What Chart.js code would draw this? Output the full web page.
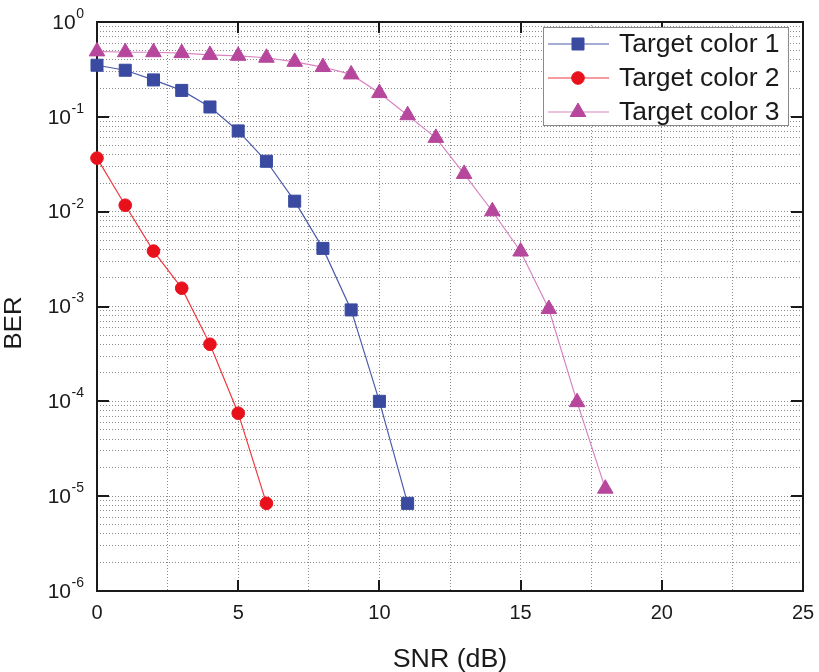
<!DOCTYPE html>
<html>
<head>
<meta charset="utf-8">
<title>BER vs SNR</title>
<script src="https://cdn.jsdelivr.net/npm/chart.js@4.4.1/dist/chart.umd.min.js"></script>
<style>
  html, body { margin: 0; padding: 0; background: #fff; }
  #wrap { width: 819px; height: 672px; }
</style>
</head>
<body>
<div id="wrap"><canvas id="berChart" width="819" height="672"></canvas></div>
<script>
// SNR (dB) and measured BER per target colour
const snr1 = [0, 1, 2, 3, 4, 5, 6, 7, 8, 9, 10, 11];
const ber1 = [0.35, 0.31, 0.245, 0.19, 0.127, 0.071, 0.034, 0.0129, 0.0041, 9.2e-4, 1.0e-4, 8.4e-6];

const snr2 = [0, 1, 2, 3, 4, 5, 6];
const ber2 = [0.0367, 0.0117, 0.00384, 0.00156, 4.0e-4, 7.5e-5, 8.4e-6];

const snr3 = [0, 1, 2, 3, 4, 5, 6, 7, 8, 9, 10, 11, 12, 13, 14, 15, 16, 17, 18];
const ber3 = [0.49, 0.48, 0.48, 0.47, 0.45, 0.44, 0.42, 0.38, 0.335, 0.28, 0.178, 0.104,
              0.06, 0.025, 0.0101, 0.0038, 9.4e-4, 9.8e-5, 1.2e-5];

const seriesNames = ["Target color 1", "Target color 2", "Target color 3"];

const xTickLabels = [0, 5, 10, 15, 20, 25];
const xGridStep = 2.5;
const yDecades = [-6, -5, -4, -3, -2, -1, 0];

const FONT = '"Liberation Sans", Arial, sans-serif';

function toPoints(xs, ys) {
  return xs.map((x, i) => ({ x: x, y: ys[i] }));
}

// text drawn slightly wider than the font's natural width
function wideText(ctx, text, x, y, stretch) {
  ctx.save();
  ctx.translate(x, y);
  ctx.scale(stretch, 1);
  ctx.fillText(text, 0, 0);
  ctx.restore();
}

const datasets = [
  {
    label: seriesNames[0],
    data: toPoints(snr1, ber1),
    borderColor: "#4c5bab",
    backgroundColor: "#3a4aa0",
    pointBackgroundColor: "#3a4aa0",
    pointBorderColor: "#3a4aa0",
    pointStyle: "rect",
    pointRadius: 8.5
  },
  {
    label: seriesNames[1],
    data: toPoints(snr2, ber2),
    borderColor: "#ee3a40",
    backgroundColor: "#e8101a",
    pointBackgroundColor: "#e8101a",
    pointBorderColor: "#e8101a",
    pointStyle: "circle",
    pointRadius: 6.3
  },
  {
    label: seriesNames[2],
    data: toPoints(snr3, ber3),
    borderColor: "#d884c2",
    backgroundColor: "#b6479c",
    pointBackgroundColor: "#b6479c",
    pointBorderColor: "#b6479c",
    pointStyle: "triangle",
    pointRadius: 9
  }
].map(d => Object.assign(d, {
  borderWidth: 1.2,
  pointBorderWidth: 1,
  tension: 0,
  fill: false,
  clip: false
}));

// frame, inward ticks, tick labels, axis titles and the legend box
const decorations = {
  id: "decorations",
  beforeDatasetsDraw(chart) {
    const ctx = chart.ctx;
    const a = chart.chartArea;
    const xs = chart.scales.x;
    const ys = chart.scales.y;
    ctx.save();
    ctx.strokeStyle = "#1a1a1a";
    ctx.lineWidth = 2;
    ctx.strokeRect(a.left, a.top, a.right - a.left, a.bottom - a.top);

    ctx.beginPath();
    xTickLabels.forEach(v => {
      const px = Math.round(xs.getPixelForValue(v));
      ctx.moveTo(px, a.bottom); ctx.lineTo(px, a.bottom - 11);
      ctx.moveTo(px, a.top); ctx.lineTo(px, a.top + 11);
    });
    yDecades.forEach(e => {
      const py = Math.round(ys.getPixelForValue(Math.pow(10, e)));
      ctx.moveTo(a.left, py); ctx.lineTo(a.left + 12, py);
      ctx.moveTo(a.right, py); ctx.lineTo(a.right - 12, py);
    });
    ctx.stroke();

    ctx.fillStyle = "#1a1a1a";
    ctx.font = "20px " + FONT;
    ctx.textAlign = "center";
    ctx.textBaseline = "middle";
    xTickLabels.forEach(v => {
      ctx.fillText(String(v), xs.getPixelForValue(v), 613);
    });

    const right = 84;
    yDecades.forEach(e => {
      const py = ys.getPixelForValue(Math.pow(10, e));
      const sup = String(e);
      ctx.font = "14px " + FONT;
      const sw = ctx.measureText(sup).width;
      ctx.textAlign = "left";
      ctx.fillText(sup, right - sw, py - 8);
      ctx.font = "21px " + FONT;
      const bw = ctx.measureText("10").width;
      ctx.fillText("10", right - sw - bw - 0.5, py + 1);
    });

    ctx.font = "25px " + FONT;
    ctx.textAlign = "center";
    wideText(ctx, "SNR (dB)", (a.left + a.right) / 2, 660, 1.07);
    ctx.translate(15, 323);
    ctx.rotate(-Math.PI / 2);
    ctx.font = "23px " + FONT;
    wideText(ctx, "BER", 0, 0, 1.12);
    ctx.restore();
  },
  afterDatasetsDraw(chart) {
    const ctx = chart.ctx;
    const box = { left: 543, top: 27, right: 789, bottom: 126 };
    ctx.save();
    ctx.fillStyle = "#fff";
    ctx.fillRect(box.left, box.top, box.right - box.left, box.bottom - box.top);
    ctx.strokeStyle = "#8a8a8a";
    ctx.lineWidth = 1;
    ctx.strokeRect(box.left + 0.5, box.top + 0.5, box.right - box.left - 1, box.bottom - box.top - 1);

    const rows = [44, 78, 112];
    chart.data.datasets.forEach((ds, i) => {
      const y = rows[i];
      ctx.strokeStyle = ds.borderColor;
      ctx.lineWidth = 1.2;
      ctx.beginPath();
      ctx.moveTo(548, y);
      ctx.lineTo(609, y);
      ctx.stroke();
      ctx.fillStyle = ds.pointBackgroundColor;
      ctx.strokeStyle = ds.pointBorderColor;
      ctx.lineWidth = 1;
      Chart.helpers.drawPoint(ctx, {
        pointStyle: ds.pointStyle,
        radius: ds.pointRadius,
        rotation: 0,
        borderWidth: 1
      }, 578, y);
      ctx.fillStyle = "#1a1a1a";
      ctx.font = "26.5px " + FONT;
      ctx.textAlign = "left";
      ctx.textBaseline = "middle";
      ctx.fillText(ds.label, 619, y + 1);
    });
    ctx.restore();
  }
};

new Chart(document.getElementById("berChart"), {
  type: "line",
  data: { datasets: datasets },
  options: {
    responsive: false,
    animation: false,
    devicePixelRatio: 1,
    layout: { padding: { top: 22, right: 16, left: 0, bottom: 0 } },
    plugins: {
      legend: { display: false },
      tooltip: { enabled: false }
    },
    scales: {
      x: {
        type: "linear",
        min: 0,
        max: 25,
        afterBuildTicks(scale) {
          const t = [];
          for (let v = 0; v <= 25; v += xGridStep) t.push({ value: v });
          scale.ticks = t;
        },
        afterFit(scale) { scale.height = 81; },
        ticks: { display: false },
        grid: { color: "#8c8c8c", lineWidth: 1, drawTicks: false },
        border: { display: false, dash: [1, 2] }
      },
      y: {
        type: "logarithmic",
        min: 1e-6,
        max: 1,
        afterBuildTicks(scale) {
          const t = [];
          yDecades.forEach(e => {
            if (e === 0) { t.push({ value: 1, major: true }); return; }
            for (let m = 1; m <= 9; m++) t.push({ value: m * Math.pow(10, e), major: m === 1 });
          });
          scale.ticks = t;
        },
        afterFit(scale) { scale.width = 97; },
        ticks: { display: false },
        grid: { color: "#8c8c8c", lineWidth: 1, drawTicks: false },
        border: { display: false, dash: [1, 2] }
      }
    }
  },
  plugins: [decorations]
});
</script>
</body>
</html>
